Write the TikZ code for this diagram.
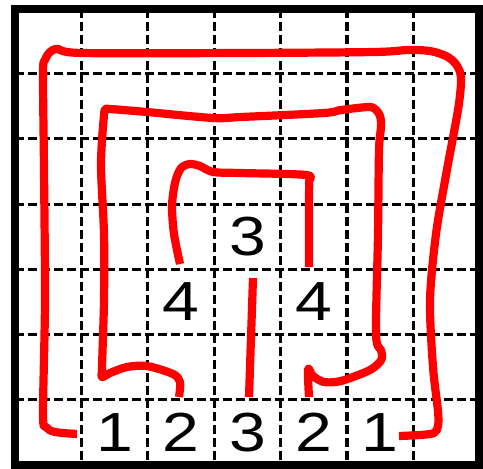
\documentclass[tikz,border=0pt]{standalone}
\usepackage{fontspec}
\setmainfont{Liberation Sans}
\usetikzlibrary{positioning}
\definecolor{loopred}{RGB}{255,0,0}
\definecolor{gridblack}{RGB}{0,0,0}
\tikzset{
  frame/.style={draw=gridblack, line width=7pt},
  gridline/.style={draw=gridblack, line width=2.6pt, dash pattern=on 7.5pt off 3.6pt},
  loopline/.style={draw=loopred, line width=7pt, line join=round},
  digit/.style={font=\fontsize{47}{47}\selectfont, xscale=1.2, inner sep=0pt}
}

\begin{document}
\begin{tikzpicture}[x=0.03cm, y=-0.03cm]

\useasboundingbox (0,0) rectangle (483,468);

%--------------------------------------------------
% Grid (dashed) and frame
%--------------------------------------------------
\foreach \i in {1,...,6}{
  \draw[gridline] ({15+66.4*\i},9) -- ({15+66.4*\i},465);
  \draw[gridline] (15,{8.5+65.2*\i}) -- (479,{8.5+65.2*\i});
}

\draw[frame] (15,9) rectangle (479,465);

%--------------------------------------------------
% Clues
%--------------------------------------------------
\foreach \c/\d [count=\k] in {1/1,2/2,3/3,4/2,5/1}
  \node[digit] (bot\k) at ({15+66.4*(\c+0.5)},432.3) {\d};

\node[digit] (fourl) at (181,301.9) {4};
\node[digit] (fourr) at (313.8,301.9) {4};
\node[digit] (three) at (247.4,236.7) {3};

%--------------------------------------------------
% Loops
%--------------------------------------------------
% 1 -- 1
\draw[loopline] plot[smooth, tension=0.5] coordinates {
  (77,434) (55,432) (46,427) (43,414) (45,300) (44,170) (43,73)
  (45,60) (50,52) (58,49) (82,53) (241,53)
  (374,52) (408,50) (430,51) (446,56) (455,63) (460,72) (461,83) (458,110)
  (446,175) (436,234) (430,300) (433,367)
  (438,411) (438,426) (434,433) (420,435) (399,436)};

% 2 -- 2
\draw[loopline] plot[smooth, tension=0.5] coordinates {
  (179,397) (180,382) (173,374) (147,366) (127,367) (110,373) (102,377)
  (102,367) (104,300) (104,234) (101,165) (104,115)
  (106,109) (110,109) (147,112) (213,118) (241,117) (324,113) (341,110)
  (368,107) (375,109) (380,116) (381,127) (379,150) (378,234)
  (376,334) (381,350) (382,358) (378,364) (368,371) (341,381) (324,382)
  (313,376) (308,369) (309,397)};

% 3 -- 3
\draw[loopline] (253,278) -- (249,397);

% 4 -- 4
\draw[loopline] plot[smooth, tension=0.5] coordinates {
  (180,264) (174,234) (172,207) (174,188) (177,176) (182,167) (190,164)
  (200,166) (213,172) (240,173) (306,175) (309,182) (309,200) (309,267)};

\end{tikzpicture}
\end{document}
